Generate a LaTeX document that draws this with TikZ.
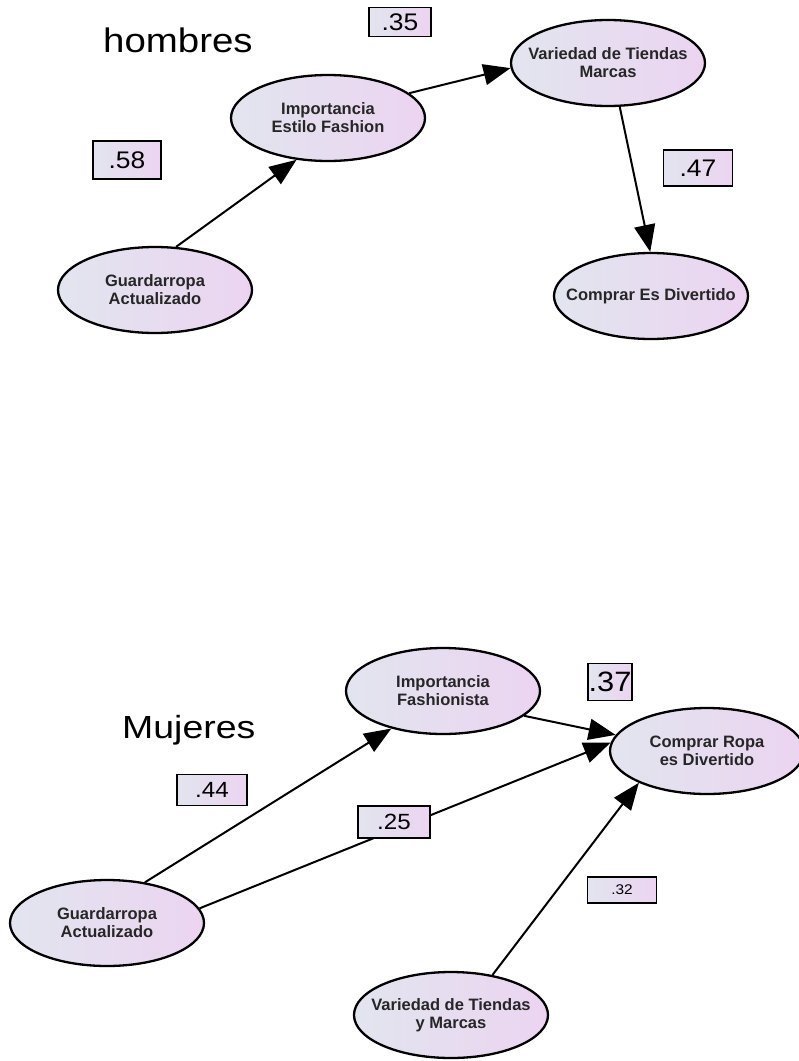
\documentclass[tikz,border=0pt]{standalone}
\usepackage{fontspec}
\usepackage{graphicx}
\setmainfont{Liberation Sans}
\usetikzlibrary{shapes.geometric,arrows.meta}
\definecolor{fillL}{HTML}{E2E5EF}
\definecolor{fillR}{HTML}{ECD4F1}
\definecolor{ink}{HTML}{262626}
\newcommand{\stretchx}[2]{\scalebox{#1}[1]{#2}}
\begin{document}
\begin{tikzpicture}[x=1pt,y=-1pt,
  latent/.style={ellipse, draw=black, line width=2.3pt, left color=fillL, right color=fillR,
    minimum width=194pt, minimum height=86pt, inner xsep=-40pt, inner ysep=0pt, align=center,
    font=\fontsize{16.5}{18}\selectfont\bfseries, text=ink},
  coef/.style={rectangle, draw=black, line width=1.8pt, left color=fillL, right color=fillR,
    inner sep=0pt, text=black},
  pathx/.style={line width=2pt, -{Triangle[length=27pt,width=21pt]}},
  heading/.style={anchor=base west, inner sep=0pt, text=black}]
\fill[white] (0,0) rectangle (799,1061);
\useasboundingbox (0,0) rectangle (799,1061);

% ---- men ----
\node[heading, font=\fontsize{34}{34}\selectfont] (hdA) at (103,52) {\stretchx{1.13}{hombres}};
\node[latent] (gA)  at (155,290) {Guardarropa\\Actualizado};
\node[latent] (iEF) at (328,118) {Importancia\\Estilo Fashion};
\node[latent] (vTM) at (608,63)  {Variedad de Tiendas\\Marcas};
\node[latent] (cED) at (651,296) {Comprar Es Divertido};

\draw[pathx] (gA.64) -- (iEF.233);
\draw[pathx] (iEF.17.6) -- (vTM.183);
\draw[pathx] (vTM.285.5) -- (cED.91);

\node[coef, minimum width=62pt, minimum height=29pt, font=\fontsize{24}{24}\selectfont] (k35) at (400,22) {\stretchx{1.1}{.35}};
\node[coef, minimum width=68pt, minimum height=38pt, font=\fontsize{24}{24}\selectfont] (k58) at (127,160) {\stretchx{1.1}{.58}};
\node[coef, minimum width=69pt, minimum height=36pt, font=\fontsize{24}{24}\selectfont] (k47) at (698,168) {\stretchx{1.1}{.47}};

% ---- women ----
\node[heading, font=\fontsize{32}{32}\selectfont] (hdB) at (122,738) {\stretchx{1.17}{Mujeres}};
\node[latent] (iF)  at (443,691)  {Importancia\\Fashionista};
\node[latent] (cRD) at (707,751)  {Comprar Ropa\\es Divertido};
\node[latent] (gB)  at (107,923)  {Guardarropa\\Actualizado};
\node[latent] (vB)  at (451,1015) {Variedad de Tiendas\\y Marcas};

\draw[pathx] (gB.47) -- (iF.216.5);
\draw[pathx] (gB.9.3) -- (cRD.175);
\draw[pathx] (iF.343) -- (cRD.170);
\draw[pathx] (vB.44) -- (cRD.205);

\node[coef, minimum width=44pt, minimum height=37pt, font=\fontsize{28}{28}\selectfont] (k37) at (610,682) {\stretchx{1.1}{.37}};
\node[coef, minimum width=70pt, minimum height=31pt, font=\fontsize{22}{22}\selectfont] (k44) at (212,790) {\stretchx{1.1}{.44}};
\node[coef, minimum width=72pt, minimum height=32pt, font=\fontsize{22}{22}\selectfont] (k25) at (394,822) {\stretchx{1.1}{.25}};
\node[coef, minimum width=69pt, minimum height=26pt, font=\fontsize{14}{14}\selectfont] (k32) at (622,890) {\stretchx{1.1}{.32}};
\end{tikzpicture}
\end{document}
